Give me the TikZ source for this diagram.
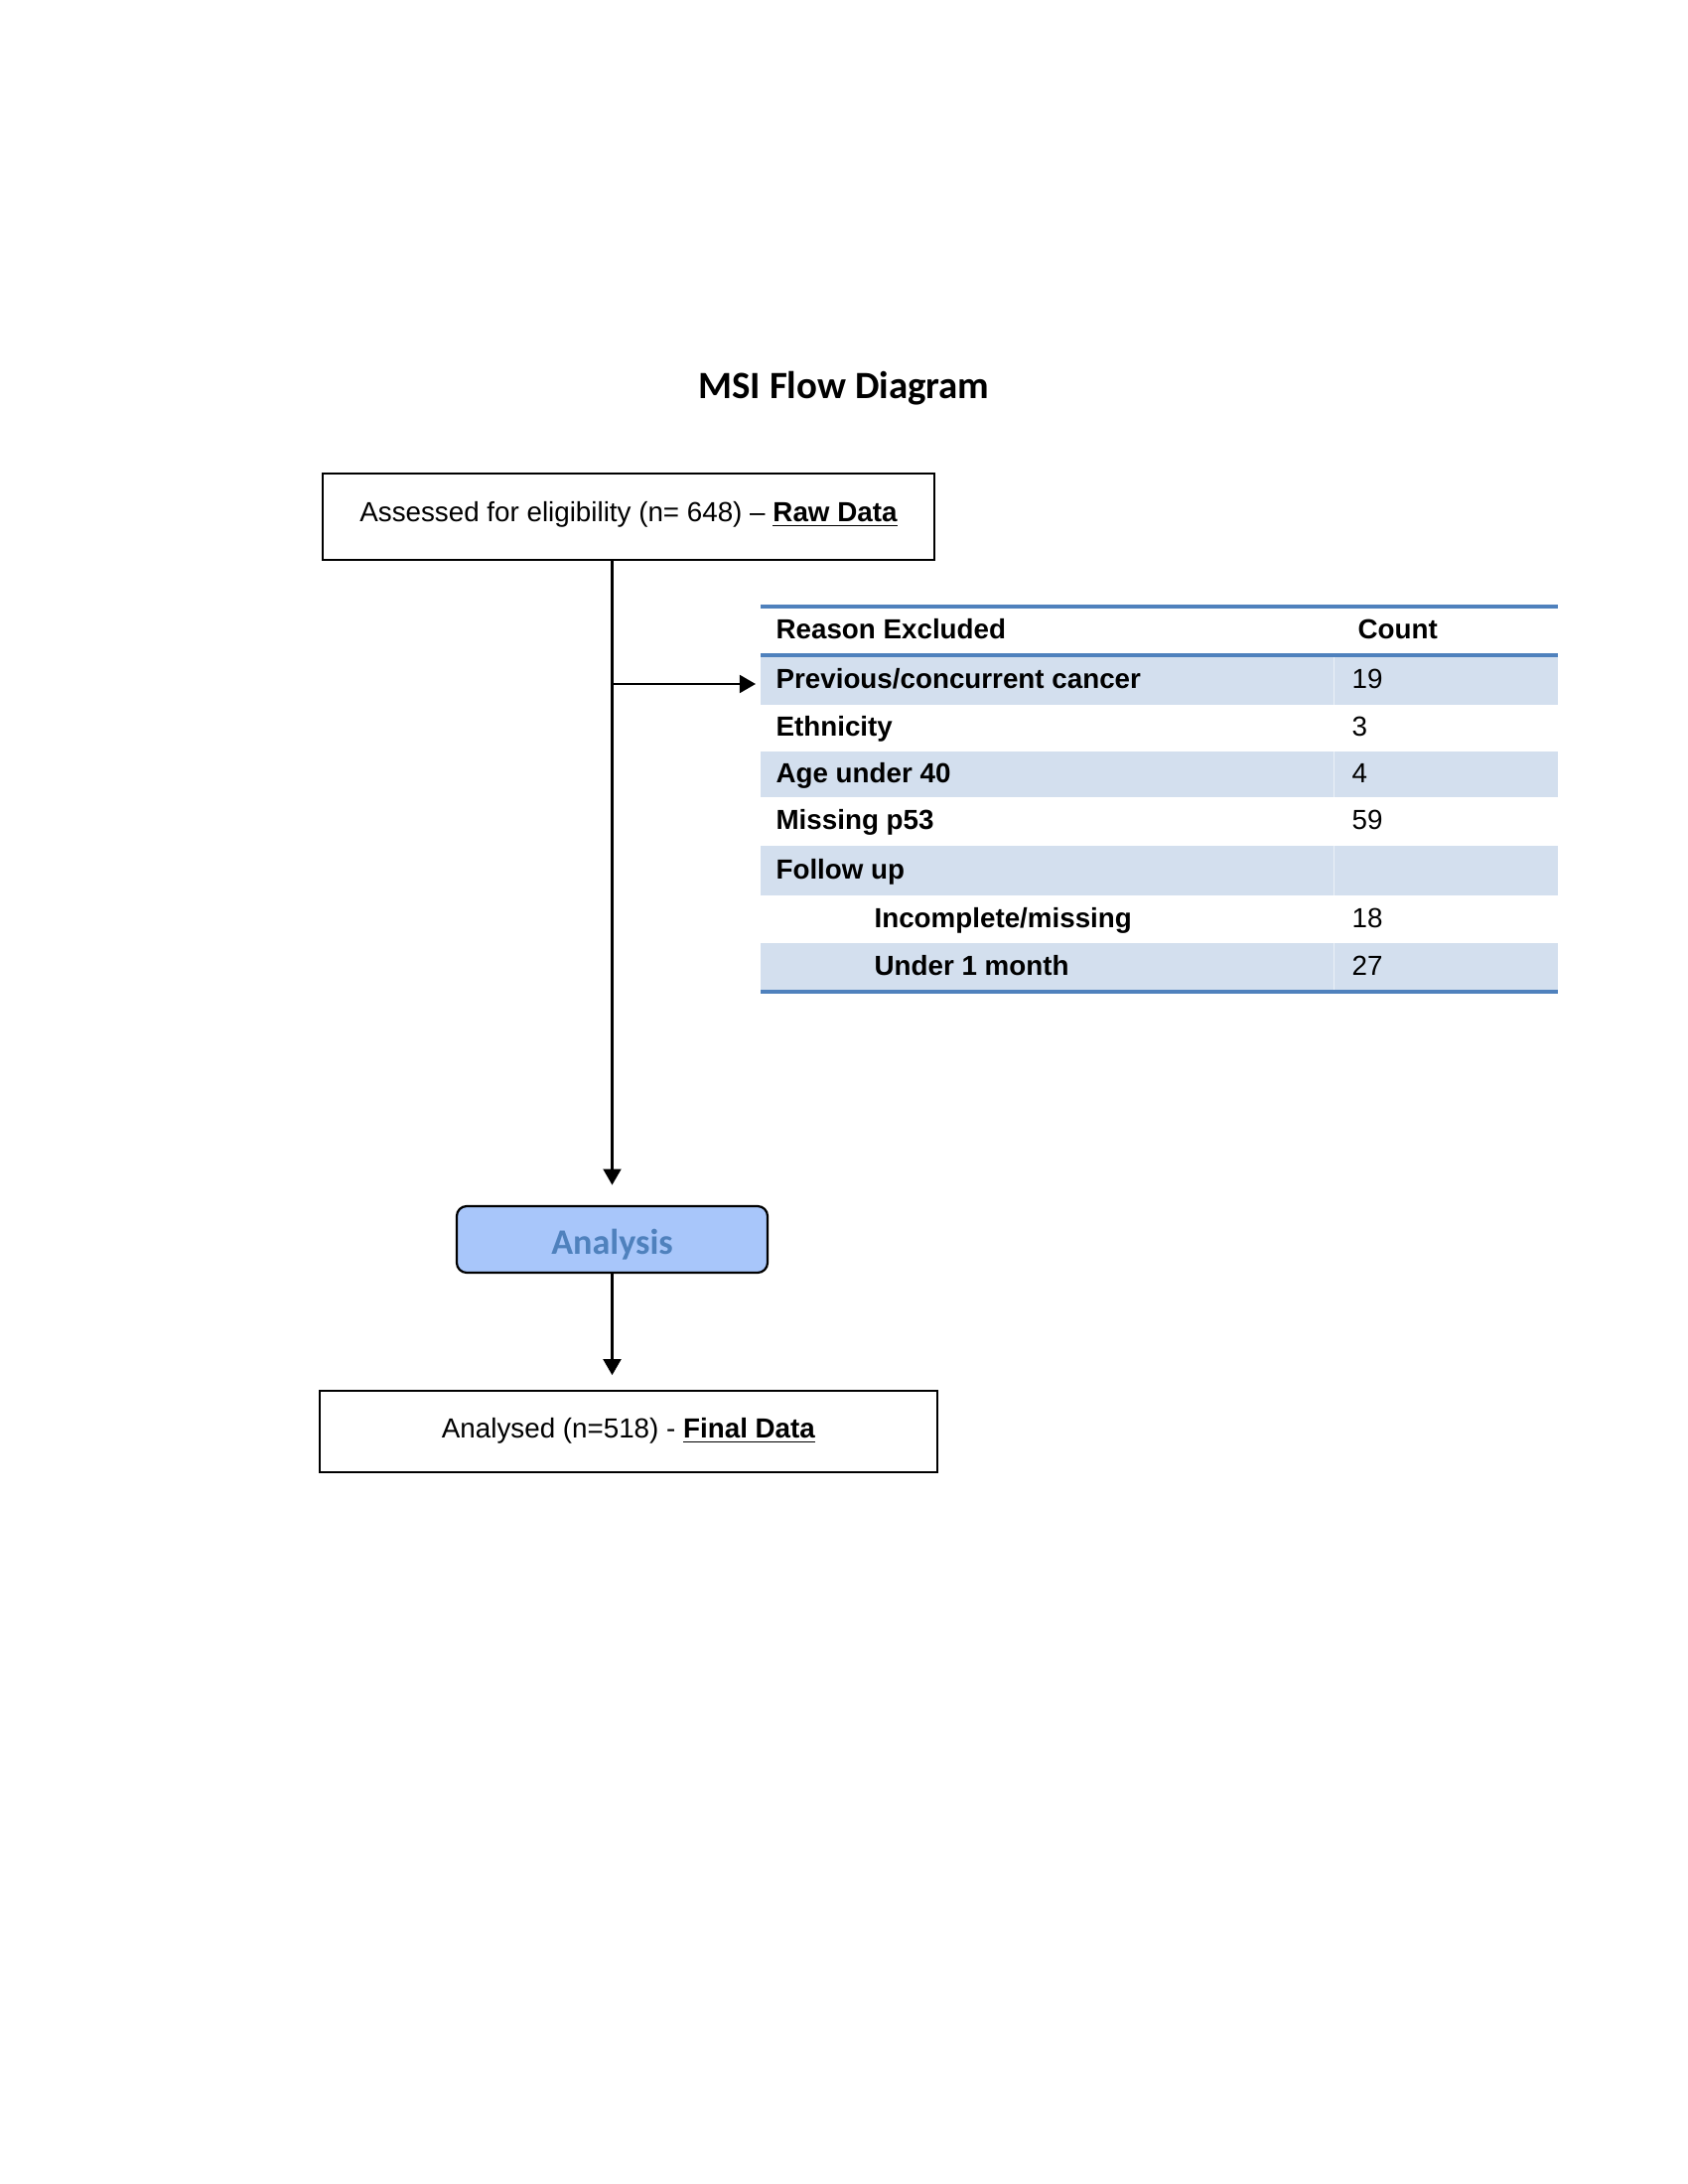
\documentclass[tikz,border=0pt]{standalone}
\usepackage{fontspec}
\setmainfont{Liberation Sans}
\newfontfamily\calibrifont{Carlito}
\usetikzlibrary{arrows.meta,calc}
\definecolor{rowshade}{HTML}{D3DFEE}
\definecolor{tblrule}{HTML}{4F81BD}
\definecolor{anafill}{HTML}{A8C6FA}
\definecolor{anatext}{HTML}{4F81BD}
\tikzset{
  boxnode/.style={draw=black, line width=0.8pt, inner sep=0pt, fill=white},
  conn/.style={draw=black, line width=0.75pt, -{Triangle[length=5.8pt,width=6.5pt]}},
  txt/.style={anchor=base, inner sep=0pt, font=\fontsize{10}{12}\selectfont},
  cell/.style={anchor=base west, inner sep=0pt, font=\fontsize{10}{12}\selectfont},
  tline/.style={draw=tblrule, line width=1.1pt},
}
\begin{document}
\begin{tikzpicture}[x=0.36pt, y=-0.36pt]
\useasboundingbox[fill=white] (0,0) rectangle (1700,2200);

% title
\node[anchor=base, inner sep=0pt, font=\calibrifont\bfseries\fontsize{14}{17}\selectfont] (title) at (850,401) {MSI Flow Diagram};

% top box
\node[boxnode, minimum width=616*0.36pt, minimum height=87*0.36pt] (raw) at (633,520.5) {};
\node[txt] (rawtext) at (633,525) {Assessed for eligibility (n= 648) -- \underline{\textbf{Raw Data}}};

% table
\fill[fill=rowshade] (766,660) rectangle (1569,710);
\fill[fill=rowshade] (766,757) rectangle (1569,803);
\fill[fill=rowshade] (766,852) rectangle (1569,902);
\fill[fill=rowshade] (766,950) rectangle (1569,999);
\draw[white!55!rowshade, line width=0.3pt] (1343,660) -- (1343,710) (1343,757) -- (1343,803) (1343,852) -- (1343,902) (1343,950) -- (1343,999);
\draw[tline] (766,611) -- (1569,611);
\draw[tline] (766,660) -- (1569,660);
\draw[tline] (766,999) -- (1569,999);

\node[cell] (h1) at (781,643.5) {\textbf{Reason Excluded}};
\node[cell] (h2) at (1367,643.5) {\textbf{Count}};
\node[cell] (r1a) at (781,693) {\textbf{Previous/concurrent cancer}};
\node[cell] (r1b) at (1361,693) {19};
\node[cell] (r2a) at (781,741.5) {\textbf{Ethnicity}};
\node[cell] (r2b) at (1361,741.5) {3};
\node[cell] (r3a) at (781,788) {\textbf{Age under 40}};
\node[cell] (r3b) at (1361,788) {4};
\node[cell] (r4a) at (781,835.5) {\textbf{Missing p53}};
\node[cell] (r4b) at (1361,835.5) {59};
\node[cell] (r5a) at (781,885) {\textbf{Follow up}};
\node[cell] (r6a) at (880,934) {\textbf{Incomplete/missing}};
\node[cell] (r6b) at (1361,934) {18};
\node[cell] (r7a) at (880,982.5) {\textbf{Under 1 month}};
\node[cell] (r7b) at (1361,982.5) {27};

% analysis box
\node[draw=black, line width=0.8pt, fill=anafill, rounded corners=3.6pt, inner sep=0pt,
      minimum width=313*0.36pt, minimum height=67*0.36pt] (ana) at (616.5,1248.5) {};
\node[anchor=base, inner sep=0pt, text=anatext, font=\calibrifont\bfseries\fontsize{13}{15}\selectfont] (anatxt) at (616.5,1263.3) {Analysis};

% final box
\node[boxnode, minimum width=622*0.36pt, minimum height=82*0.36pt] (final) at (633,1442) {};
\node[txt] (finaltext) at (633,1448) {Analysed (n=518) - \underline{\textbf{Final Data}}};

% connectors
\coordinate (branch) at (616.5,689);
\coordinate (tblin) at (761,689);
\draw[conn, shorten >=7.3pt] (raw.south -| ana.north) -- (ana.north);
\draw[conn] (branch) -- (tblin);
\draw[conn, shorten >=5.3pt] (ana.south) -- (final.north -| ana.south);
\end{tikzpicture}
\end{document}
